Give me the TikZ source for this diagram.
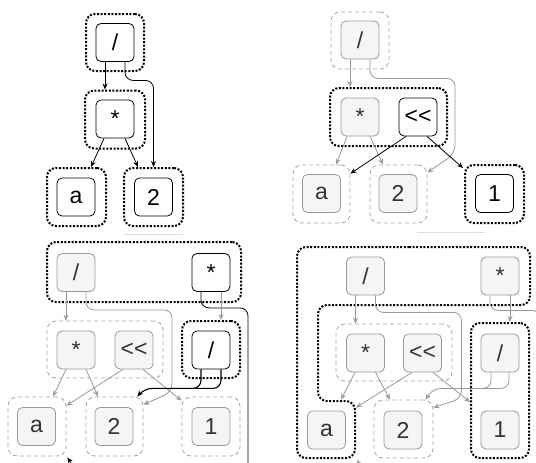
\documentclass[tikz,border=0pt]{standalone}
\usepackage{fontspec}
\setmainfont{Liberation Sans}
\usetikzlibrary{arrows.meta,calc}
\definecolor{gline}{HTML}{999999}
\definecolor{gfill}{HTML}{F5F5F5}
\definecolor{gtext}{HTML}{333333}
\definecolor{gdash}{HTML}{A6A6A6}
\definecolor{sepc}{HTML}{DDDDDD}
\newcommand{\shl}{<\kern0pt<}
\begin{document}
\begin{tikzpicture}[x=1pt,y=-1pt,
 bnode/.style={draw=black,fill=white,rounded corners=5pt,minimum width=38pt,minimum height=38pt,inner sep=0pt,line width=0.8pt,font=\fontsize{23}{26}\selectfont},
 gnode/.style={bnode,draw=gline,fill=gfill,text=gtext},
 dotgrp/.style={draw=black,line width=2pt,dash pattern=on 2pt off 1.6pt,rounded corners=9pt,inner sep=0pt},
 dshgrp/.style={draw=gdash,line width=0.8pt,dash pattern=on 4pt off 3pt,rounded corners=9pt,inner sep=0pt},
 barr/.style={draw=black,line width=0.8pt,-{Stealth[length=6pt,width=5pt]},rounded corners=8pt},
 bline/.style={draw=black,line width=0.8pt,rounded corners=8pt},
 garr/.style={draw=gline,line width=0.8pt,-{Stealth[length=6pt,width=5pt]},rounded corners=8pt},
 gline2/.style={draw=gline,line width=0.8pt,rounded corners=8pt},
 sepline/.style={draw=sepc,line width=1.6pt},
]
\useasboundingbox (0,0) rectangle (536,463);
\clip (0,0) rectangle (536,463);

% ---------------- Panel 1 ----------------
\node[dotgrp,minimum width=58pt,minimum height=57pt] (p1gdiv) at (115,42.5) {};
\node[dotgrp,minimum width=60pt,minimum height=58pt] (p1gmul) at (115,119.5) {};
\node[dotgrp,minimum width=59pt,minimum height=58pt] (p1ga) at (76.5,197) {};
\node[dotgrp,minimum width=59pt,minimum height=58pt] (p1gtwo) at (153.5,197) {};
\node[bnode] (p1div) at (115,42.5) {/};
\node[bnode] (p1mul) at (115,119) {*};
\node[bnode] (p1a) at (76,197) {a};
\node[bnode] (p1two) at (153.5,197) {2};
\draw[barr] ([xshift=-10pt]p1div.south) -- ([xshift=-10pt]p1gmul.north);
\draw[barr] ([xshift=10pt]p1div.south) -- ++(0,18.5) -| (p1gtwo.north);
\draw[barr] ([xshift=-11pt]p1mul.south) -- ([xshift=14.5pt]p1ga.north);
\draw[barr] ([xshift=10pt]p1mul.south) -- ([xshift=-15.5pt]p1gtwo.north);
\coordinate (s1a) at (124,234.5);
\coordinate (s1b) at (183,234.5);
\draw[sepline] (s1a) -- (s1b);

% ---------------- Panel 2 ----------------
\node[dshgrp,minimum width=58pt,minimum height=57pt] (p2gdiv) at (360,40.5) {};
\node[dotgrp,minimum width=117pt,minimum height=58pt] (p2gmid) at (388.5,117) {};
\node[dshgrp,minimum width=57pt,minimum height=58pt] (p2ga) at (321.5,194) {};
\node[dshgrp,minimum width=57pt,minimum height=58pt] (p2gtwo) at (398.5,194) {};
\node[dotgrp,minimum width=59pt,minimum height=58pt] (p2gone) at (494.5,194) {};
\node[gnode] (p2div) at (360,40) {/};
\node[gnode] (p2mul) at (360,117) {*};
\node[bnode] (p2shl) at (418,117) {\shl};
\node[gnode] (p2a) at (321.5,193.5) {a};
\node[gnode] (p2two) at (398,193.5) {2};
\node[bnode] (p2one) at (494.5,193.5) {1};
\draw[garr] ([xshift=-10pt]p2div.south) -- ([xshift=-10pt]p2div.south |- p2gmid.north);
\draw[garr] ([xshift=10pt]p2div.south) -- ++(0,19) -- ++(85,0) -- ++(0,75) -- ([yshift=-8pt]p2gtwo.north east);
\draw[garr] ([xshift=-13pt]p2mul.south) -- ([xshift=14.5pt]p2ga.north);
\draw[garr] ([xshift=10pt]p2mul.south) -- ([xshift=-15.5pt]p2gtwo.north);
\draw[barr] ([xshift=-12pt]p2shl.south) -- ([yshift=-9pt]p2ga.north east);
\draw[barr] ([xshift=9pt]p2shl.south) -- ([shift={(-1pt,-4pt)}]p2gone.north west);
\coordinate (s2a) at (417,232.5);
\coordinate (s2b) at (485,232.5);
\draw[sepline] (s2a) -- (s2b);

% ---------------- Panel 3 ----------------
\node[dotgrp,minimum width=194pt,minimum height=60pt] (p3gtop) at (144,272) {};
\node[dshgrp,minimum width=116pt,minimum height=57pt] (p3gmid) at (105,349.5) {};
\node[dotgrp,minimum width=58pt,minimum height=57pt] (p3gdivR) at (211,349.5) {};
\node[dshgrp,minimum width=58pt,minimum height=59pt] (p3ga) at (37,426.5) {};
\node[dshgrp,minimum width=57pt,minimum height=59pt] (p3gtwo) at (114.5,426.5) {};
\node[dshgrp,minimum width=58pt,minimum height=59pt] (p3gone) at (211,426.5) {};
\node[gnode] (p3div) at (76,272.5) {/};
\node[bnode] (p3mulT) at (211,272.5) {*};
\node[gnode] (p3mul) at (76,350) {*};
\node[gnode] (p3shl) at (134,350) {\shl};
\node[bnode] (p3divR) at (211,350) {/};
\node[gnode] (p3a) at (36.5,426.5) {a};
\node[gnode] (p3two) at (114,426.5) {2};
\node[gnode] (p3one) at (211,426.5) {1};
\draw[garr] ([xshift=-10pt]p3div.south) -- ([xshift=-10pt]p3div.south |- p3gmid.north);
\draw[garr] ([xshift=10pt]p3div.south) -- ++(0,18) -- ++(86,0) -- ++(0,82) -- ([yshift=-8pt]p3gtwo.north east);
\draw[bline] ([xshift=-10pt]p3mulT.south) -- ++(0,16) -- ++(47,0) -- ++(0,200);
\draw[garr] ([xshift=10pt]p3mulT.south) -- ([xshift=10pt]p3mulT.south |- p3gdivR.north);
\draw[garr] ([xshift=-10pt]p3mul.south) -- ([xshift=16pt]p3ga.north);
\draw[garr] ([xshift=10pt]p3mul.south) -- ([xshift=-16.5pt]p3gtwo.north);
\draw[garr] ([xshift=-11pt]p3shl.south) -- ([yshift=-9pt]p3ga.north east);
\draw[garr] ([xshift=9pt]p3shl.south) -- ([yshift=-4pt]p3gone.north west);
\draw[barr,line width=1.1pt] ([xshift=-10pt]p3divR.south) -- ++(0,19) -- ++(-57,0) -- ([xshift=-6pt]p3gtwo.north east);
\draw[bline,line width=1.1pt] ([xshift=10pt]p3divR.south) -- ++(0,19) -- ++(-26,0);
\draw[barr] ([shift={(8pt,-12pt)}]p3ga.south east) -- ([shift={(1pt,-1pt)}]p3ga.south east);

% ---------------- Panel 4 ----------------
\draw[dotgrp] (400,247) -- (530,247) -- (530,305) -- (318,305) -- (318,401) -- (355,401) -- (355,458) -- (297,458) -- (297,247) -- cycle;
\coordinate (p4c) at (355,458);
\node[dshgrp,minimum width=116pt,minimum height=57pt] (p4gmid) at (394,352.5) {};
\node[dotgrp,minimum width=58pt,minimum height=135pt] (p4gR) at (500,390.5) {};
\node[dshgrp,minimum width=59pt,minimum height=58pt] (p4gtwo) at (403.5,429) {};
\node[gnode] (p4div) at (365.5,276) {/};
\node[gnode] (p4mulT) at (500,276) {*};
\node[gnode] (p4mul) at (365.5,353) {*};
\node[gnode] (p4shl) at (422.5,353) {\shl};
\node[gnode] (p4divR) at (500,353) {/};
\node[gnode] (p4a) at (326.5,430) {a};
\node[gnode] (p4two) at (403,430) {2};
\node[gnode] (p4one) at (500,430) {1};
\draw[garr] ([xshift=-10pt]p4div.south) -- ([xshift=-10pt]p4div.south |- p4gmid.north);
\draw[garr] ([xshift=10pt]p4div.south) -- ++(0,17) -- ++(86,0) -- ++(0,86) -- ([yshift=-8pt]p4gtwo.north east);
\draw[gline2] ([xshift=-10pt]p4mulT.south) -- ++(0,15) -- ++(50,0) -- ++(0,200);
\draw[garr] ([xshift=10pt]p4mulT.south) -- ([xshift=10pt]p4mulT.south |- p4gR.north);
\draw[garr] ([xshift=-10.5pt]p4mul.south) -- ([shift={(14.5pt,11pt)}]p4a.north);
\draw[garr] ([xshift=10pt]p4mul.south) -- ([xshift=-13.5pt]p4gtwo.north);
\draw[garr] ([xshift=-10.5pt]p4shl.south) -- ([shift={(10pt,3pt)}]p4a.north east);
\draw[garr] ([xshift=10.5pt]p4shl.south) -- ([yshift=-80pt]p4gR.north west);
\draw[garr] ([xshift=-9pt]p4divR.south) -- ++(0,16) -- ++(-58,0) -- ([xshift=-8pt]p4gtwo.north east);
\draw[gline2] ([xshift=9pt]p4divR.south) -- ++(0,16) -- ++(-26,0);
\draw[garr] ([shift={(8pt,-12pt)}]p4c) -- ([shift={(2pt,-2pt)}]p4c);
\end{tikzpicture}
\end{document}
